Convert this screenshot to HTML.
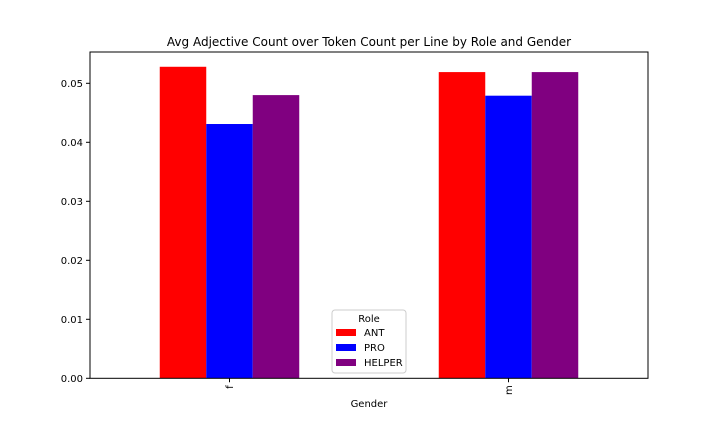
<!DOCTYPE html>
<html><head><meta charset="utf-8"><style>
body{margin:0;background:#fff;font-family:"Liberation Sans","DejaVu Sans",sans-serif}
</style></head><body>
<svg width="720" height="432" id="c" font-family="DejaVu Sans, Liberation Sans, sans-serif"></svg>
<script>
const categories=["f","m"];
const roles=["ANT","PRO","HELPER"];
const colors=["#ff0000","#0000ff","#800080"];
const antValues=[0.0528,0.0519];
const proValues=[0.0431,0.0479];
const helperValues=[0.0480,0.0519];
const yTicks=[0,0.01,0.02,0.03,0.04,0.05];
const series=[antValues,proValues,helperValues];
const NS="http://www.w3.org/2000/svg";
const svg=document.getElementById('c');
const L=90,R=648,T=52,B=378.3;
const yMax=0.0553;
function y(v){return B-v/0.05*(B-83.3);}
function x(i){return L+(i+0.5)*(R-L)/2;}
const unit=(R-L)/2, bw=unit*0.5/3;
function mk(t,a,txt){const e=document.createElementNS(NS,t);for(const k in a)e.setAttribute(k,a[k]);if(txt!=null)e.textContent=txt;svg.appendChild(e);return e;}
series.forEach((vals,s)=>{vals.forEach((v,i)=>{
 const r=mk('rect',{x:x(i)-unit*0.25+s*bw,y:y(v),width:bw,height:B-y(v),fill:colors[s]});
 
 
});});
const ax=mk('rect',{x:L,y:T,width:R-L,height:B-T,fill:'none',stroke:'#000','stroke-width':1});


yTicks.forEach(v=>{
 mk('line',{x1:L-4,x2:L,y1:y(v),y2:y(v),stroke:'#000'});
 const t=mk('text',{x:L-7,y:y(v)+3.5,'font-size':10,'text-anchor':'end'},v.toFixed(2));
 
 
});
categories.forEach((c,i)=>{
 mk('line',{x1:x(i),x2:x(i),y1:B,y2:B+4,stroke:'#000'});
 const t=mk('text',{x:0,y:0,'font-size':10,'text-anchor':'end',transform:`translate(${x(i)+3.5},${B+7}) rotate(-90)`},c);
 
 
});
const xt=mk('text',{x:369,y:407,'font-size':10,'text-anchor':'middle'},'Gender');


const tt=mk('text',{x:369,y:46,'font-size':12,'text-anchor':'middle'},'Avg Adjective Count over Token Count per Line by Role and Gender');


const lg=mk('rect',{x:332,y:310,width:74,height:63,fill:'#fff',stroke:'#ccc',rx:3});


const lt=mk('text',{x:369,y:322,'font-size':10,'text-anchor':'middle'},'Role');


roles.forEach((r,s)=>{
 const sw=mk('rect',{x:336,y:329+s*15,width:20,height:7,fill:colors[s]});
 
 
 const t=mk('text',{x:364,y:336+s*15,'font-size':10},r);
 
 
});
</script>
</body></html>
